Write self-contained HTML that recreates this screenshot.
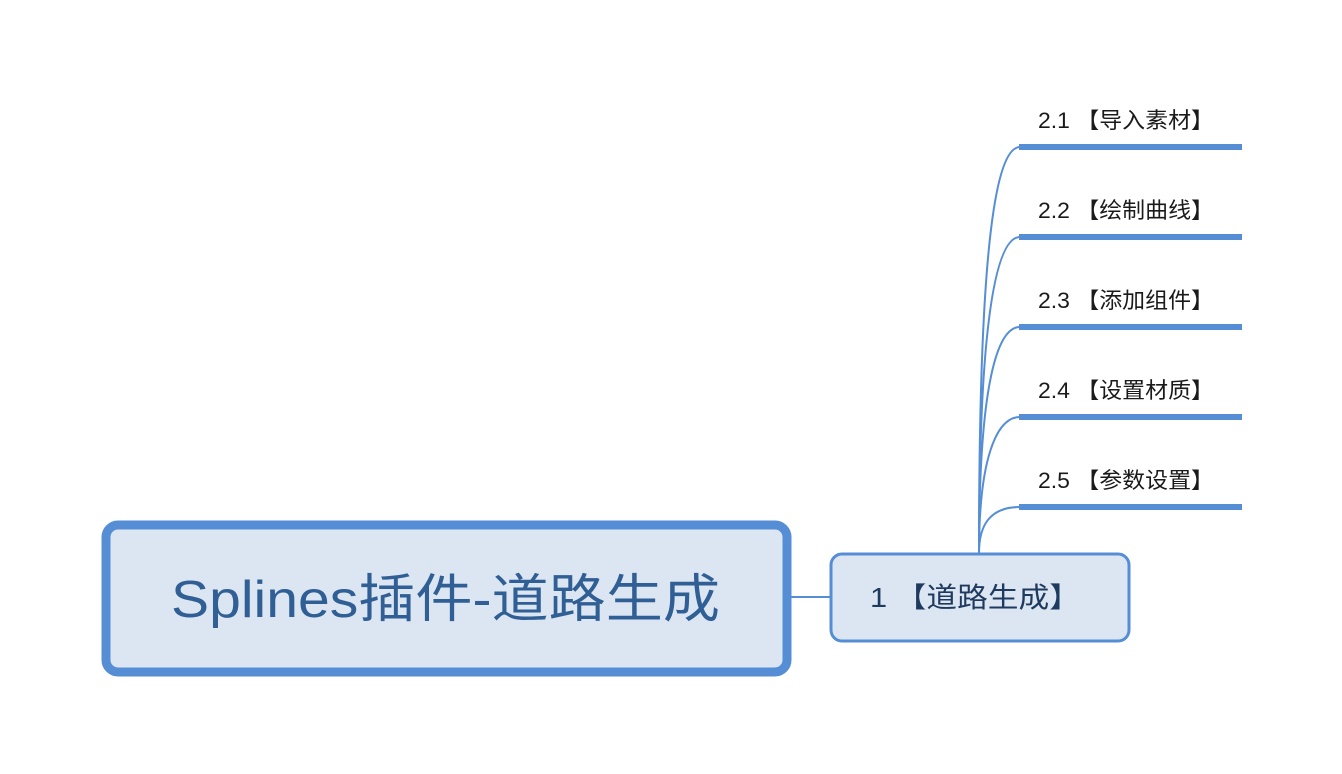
<!DOCTYPE html>
<html><head><meta charset="utf-8"><style>
html,body{margin:0;padding:0;background:#fff;}
svg{display:block;}
text{font-family:"Liberation Sans","Noto Sans CJK SC",sans-serif;}
</style></head><body>
<svg width="1342" height="774" viewBox="0 0 1342 774" xmlns="http://www.w3.org/2000/svg">
<rect x="106" y="525" width="681" height="147" rx="12" fill="#dce6f2" stroke="#558ed5" stroke-width="9"/>
<text x="171" y="617" font-size="52" fill="#2f5f94" textLength="549" lengthAdjust="spacingAndGlyphs">Splines插件-道路生成</text>
<line x1="791" y1="597" x2="831" y2="597" stroke="#558ed5" stroke-width="2"/>
<rect x="831" y="554" width="298" height="87" rx="11" fill="#dce6f2" stroke="#558ed5" stroke-width="3"/>
<text x="870" y="607" font-size="28" fill="#1f3a5f" textLength="210" lengthAdjust="spacingAndGlyphs">1 【道路生成】</text>
<g fill="none" stroke="#558ed5" stroke-width="2">
<line x1="979" y1="553" x2="979" y2="520"/>
<path d="M979 553 C979 300 990 147 1020 147"/>
<path d="M979 553 C979 350 992 237 1020 237"/>
<path d="M979 553 C979 400 994 327 1020 327"/>
<path d="M979 553 C979 460 996 417 1020 417"/>
<path d="M979 553 C979 525 990 507 1020 507"/>
</g>
<g fill="#558ed5">
<rect x="1019" y="144" width="223" height="6"/>
<rect x="1019" y="234" width="223" height="6"/>
<rect x="1019" y="324" width="223" height="6"/>
<rect x="1019" y="414" width="223" height="6"/>
<rect x="1019" y="504" width="223" height="6"/>
</g>
<g font-size="22" fill="#1a1a1a">
<text x="1038" y="128" textLength="176" lengthAdjust="spacingAndGlyphs">2.1 【导入素材】</text>
<text x="1038" y="218" textLength="176" lengthAdjust="spacingAndGlyphs">2.2 【绘制曲线】</text>
<text x="1038" y="308" textLength="176" lengthAdjust="spacingAndGlyphs">2.3 【添加组件】</text>
<text x="1038" y="398" textLength="176" lengthAdjust="spacingAndGlyphs">2.4 【设置材质】</text>
<text x="1038" y="488" textLength="176" lengthAdjust="spacingAndGlyphs">2.5 【参数设置】</text>
</g>
</svg>
</body></html>
